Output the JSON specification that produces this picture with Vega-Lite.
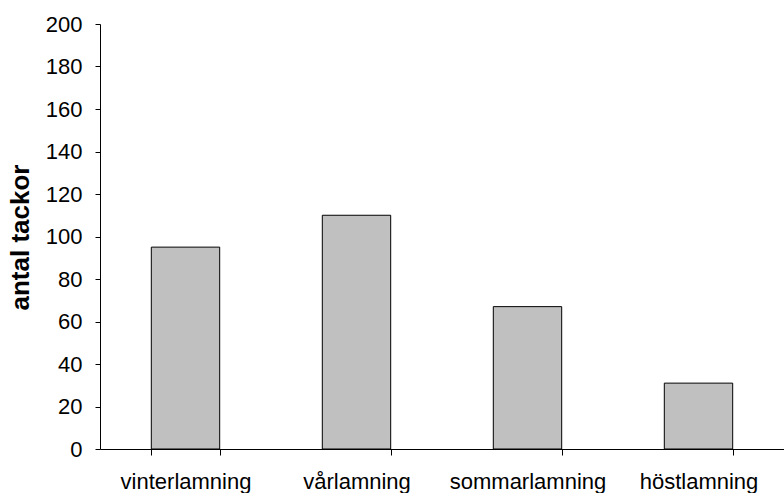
{
  "$schema": "https://vega.github.io/schema/vega-lite/v6.json",
  "autosize": "none",
  "width": 684,
  "height": 425,
  "padding": {"left": 100, "top": 24, "right": 0, "bottom": 44},
  "background": "white",
  "config": {
    "view": {"stroke": null},
    "font": "Liberation Sans",
    "axis": {
      "labelFont": "Liberation Sans",
      "titleFont": "Liberation Sans",
      "labelColor": "black",
      "titleColor": "black",
      "domainColor": "black",
      "tickColor": "black",
      "grid": false
    }
  },
  "data": {
    "values": [
      {"season": "vinterlamning", "tackor": 95},
      {"season": "vårlamning", "tackor": 110},
      {"season": "sommarlamning", "tackor": 67},
      {"season": "höstlamning", "tackor": 31}
    ]
  },
  "mark": {"type": "bar", "fill": "#c0c0c0", "stroke": "black", "strokeWidth": 1},
  "encoding": {
    "x": {
      "field": "season",
      "type": "nominal",
      "sort": null,
      "scale": {"paddingInner": 0.6, "paddingOuter": 0.3},
      "axis": {
        "title": null,
        "labelAngle": 0,
        "labelFontSize": 22,
        "labelPadding": 16,
        "tickBand": "extent",
        "tickSize": 6,
        "labelBaseline": "top"
      }
    },
    "y": {
      "field": "tackor",
      "type": "quantitative",
      "scale": {"domain": [0, 200], "nice": false},
      "axis": {
        "title": "antal tackor",
        "titleFontSize": 26,
        "titleFontWeight": "bold",
        "titleX": -72,
        "titleY": 213,
        "titleBaseline": "alphabetic",
        "values": [0, 20, 40, 60, 80, 100, 120, 140, 160, 180, 200],
        "labelFontSize": 22,
        "labelPadding": 13,
        "tickSize": 5
      }
    }
  }
}
